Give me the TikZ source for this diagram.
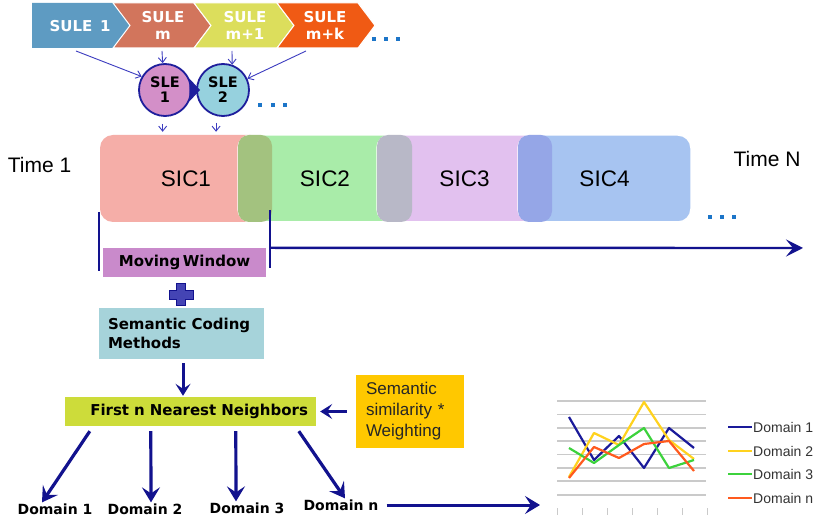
\documentclass[tikz,border=0pt]{standalone}
\usepackage{fontspec}
\setmainfont{Liberation Sans}
\newfontfamily\vfont{DejaVu Sans}
\usetikzlibrary{arrows.meta,calc}

\definecolor{suleA}{HTML}{5E9BC2}
\definecolor{suleB}{HTML}{D2755C}
\definecolor{suleC}{HTML}{DCDE5C}
\definecolor{suleD}{HTML}{F05A14}
\definecolor{sleA}{HTML}{D38FC8}
\definecolor{sleB}{HTML}{96D1DE}
\definecolor{slerim}{HTML}{1E1E9C}
\definecolor{thinblue}{HTML}{3C3CC0}
\definecolor{sicA}{HTML}{F5AEA8}
\definecolor{sicB}{HTML}{A9ECA9}
\definecolor{sicC}{HTML}{E2C1EF}
\definecolor{sicD}{HTML}{A7C4F1}
\definecolor{ovAB}{HTML}{A3C27F}
\definecolor{ovBC}{HTML}{B8B8C7}
\definecolor{ovCD}{HTML}{95A6E7}
\definecolor{navy}{HTML}{12128E}
\definecolor{dotblue}{HTML}{1C75C8}
\definecolor{mwfill}{HTML}{C98ACB}
\definecolor{scmfill}{HTML}{A6D3DA}
\definecolor{fnnfill}{HTML}{CDDC3A}
\definecolor{simfill}{HTML}{FFC800}
\definecolor{plusfill}{HTML}{4444B4}
\definecolor{gridgrey}{HTML}{CACACA}
\definecolor{domA}{HTML}{1A1A9A}
\definecolor{domB}{HTML}{FFD21E}
\definecolor{domC}{HTML}{3CD23C}
\definecolor{domN}{HTML}{FF5A1E}

\tikzset{
  suleedge/.style={draw=white, line width=1pt},
  suletext/.style={text=white, align=center, inner sep=1pt,
    font=\vfont\bfseries\fontsize{15}{17}\selectfont},
  slecircle/.style={circle, draw=slerim, line width=1.8pt, minimum size=52pt,
    inner sep=0pt, align=center, font=\vfont\bfseries\fontsize{14.5}{15}\selectfont},
  thinarrow/.style={draw=thinblue, line width=0.9pt,
    -{Straight Barb[length=5pt,width=8pt]}},
  sicbox/.style={rounded corners=13pt, minimum height=87pt, inner sep=0pt,
    font=\fontsize{22.5}{24}\selectfont},
  ovbox/.style={rounded corners=11pt, minimum height=87pt, inner sep=0pt},
  timelab/.style={font=\fontsize{21}{24}\selectfont, inner sep=1pt},
  navybar/.style={draw=navy, line width=2.6pt},
  timearrow/.style={draw=navy, line width=2.4pt,
    -{Stealth[length=17pt,width=17pt,inset=7pt]}},
  boldbox/.style={font=\vfont\bfseries\fontsize{15}{19}\selectfont, inner ysep=0pt},
  bigarrow/.style={draw=navy, line width=3.2pt,
    -{Stealth[length=15pt,width=18pt,inset=6pt]}},
  midarrow/.style={draw=navy, line width=3pt,
    -{Stealth[length=12pt,width=15pt,inset=5pt]}},
  domlab/.style={font=\vfont\bfseries\fontsize{14}{16}\selectfont, inner sep=1pt},
  gridline/.style={draw=gridgrey, line width=1.3pt},
  series/.style={line width=2.2pt, line join=round},
  legtext/.style={font=\fontsize{14}{16}\selectfont, text=black!80, inner sep=1pt},
}

\begin{document}
\begin{tikzpicture}[x=1pt,y=-1pt]
\fill[white] (0,0) rectangle (820,521);
\useasboundingbox (0,0) rectangle (820,521);

% chevrons on top
\fill[suleA] (32,3) -- (113,3) -- (130,25.5) -- (113,48) -- (32,48) -- cycle;
\foreach \l/\r/\c in {113/194/suleB, 194/277/suleC, 277/358/suleD}
  \filldraw[fill=\c, suleedge] (\l,3) -- (\r,3) -- ({\r+17},25.5) -- (\r,48)
    -- (\l,48) -- ({\l+17},25.5) -- cycle;
\node[suletext] (s1) at (80,26) {SULE\ \,1};
\node[suletext] (sm) at (163,25) {SULE\\m};
\node[suletext] (sm1) at (245,25) {SULE\\m+1};
\node[suletext] (smk) at (325,25) {SULE\\m+k};
\foreach \x in {374,386,398}
  \fill[dotblue] ({\x-2},37) rectangle ({\x+2},41);

% SLE circles
\node[slecircle, fill=sleA] (sle1) at (165,90) {SLE\\1};
\node[slecircle, fill=sleB] (sle2) at (223,90) {SLE\\2};
\fill[slerim] (sle1.25) -- ([xshift=4pt]sle2.west) -- (sle1.-25) -- cycle;
\foreach \x in {260,273,285}
  \fill[dotblue] ({\x-2},103) rectangle ({\x+2},107);

\draw[thinarrow] ($(s1)+(-4,25)$) -- (sle1.150);
\draw[thinarrow] ($(sm)+(-1,26)$) -- (sle1.95);
\draw[thinarrow] ($(sm1)+(-13,26)$) -- (sle2.70);
\draw[thinarrow] ($(smk)+(-19,26)$) -- (sle2.25);

% sliding SICs
\node[sicbox, fill=sicA, minimum width=172pt] (sic1) at (186,178.5) {SIC1};
\node[sicbox, fill=sicB, draw=white, line width=1.5pt, minimum width=174pt] (sic2) at (325,178.5) {SIC2};
\node[ovbox, fill=ovAB, minimum width=34pt] (ov12) at (255,178.5) {};
\node[sicbox, fill=sicC, draw=white, line width=1.5pt, minimum width=175pt] (sic3) at (464.5,178.5) {SIC3};
\node[ovbox, fill=ovBC, minimum width=35pt] (ov23) at (394.5,178.5) {};
\node[sicbox, fill=sicD, draw=white, line width=1.5pt, minimum width=173pt] (sic4) at (604.5,178.5) {SIC4};
\node[ovbox, fill=ovCD, minimum width=34pt] (ov34) at (535,178.5) {};

\draw[thinarrow, shorten <=7pt, shorten >=3pt] (sle1.265) -- (sle1.265 |- sic1.north);
\draw[thinarrow, shorten <=7pt, shorten >=3pt] (sle2.255) -- (sle2.255 |- sic1.north);

\node[timelab] (t1) at (39.5,164.5) {Time 1};
\node[timelab] (tn) at (767,159) {Time N};
\foreach \x in {710,722,734}
  \fill[dotblue] ({\x-2},215) rectangle ({\x+2},219);

% moving window
\node[boldbox, fill=mwfill, minimum width=163pt, minimum height=29pt] (mw) at (184.5,262.5) {Moving\,Window};
\coordinate (mwl1) at (99,212);
\coordinate (mwl2) at (99,271);
\coordinate (mwr1) at (270,210);
\coordinate (mwr2) at (270,268);
\coordinate (tend) at (803,248);
\draw[navybar] (mwl1) -- (mwl2);
\draw[navybar] (mwr1) -- (mwr2);
\draw[timearrow] (mwr1 |- mw.north) -- (tend);

% plus sign
\filldraw[fill=plusfill, draw=navy, line width=1pt, shift={(181,295)}]
  (-4.5,-11) -- (4.5,-11) -- (4.5,-4.5) -- (12,-4.5) -- (12,4.5) -- (4.5,4.5)
  -- (4.5,11) -- (-4.5,11) -- (-4.5,4.5) -- (-12,4.5) -- (-12,-4.5) -- (-4.5,-4.5) -- cycle;

\node[boldbox, fill=scmfill, minimum width=165pt, minimum height=51pt,
  text width=147pt, inner xsep=9pt, align=left] (scm) at (181.5,333.5)
  {Semantic Coding\\Methods};
\node[boldbox, fill=fnnfill, minimum width=251pt, minimum height=29pt,
  text width=235pt, inner xsep=8pt, align=right] (fnn) at (190.5,411.5)
  {First n Nearest Neighbors};
\node[fill=simfill, minimum width=108pt, minimum height=73pt, text width=88pt,
  inner xsep=10pt, align=left, text=black!85,
  font=\fontsize{17}{21}\selectfont] (sim) at (410,411.5)
  {Semantic\\similarity *\\Weighting};

\draw[midarrow, shorten <=4pt, shorten >=1pt] ([xshift=1.5pt]scm.south) -- ([xshift=1.5pt]fnn.north -| scm.south);
\draw[midarrow, shorten <=9pt, shorten >=4pt] (sim.west) -- (fnn.east);

% domains
\node[domlab] (d1) at (55,509) {Domain 1};
\node[domlab] (d2) at (145,509) {Domain 2};
\node[domlab] (d3) at (247,508) {Domain 3};
\node[domlab] (dn) at (341,505) {Domain n};
\draw[bigarrow] ($(fnn.south west)+(25,5)$) -- ([xshift=-13pt]d1.north);
\draw[bigarrow] ($(fnn.south west)+(86,5)$) -- ([xshift=6pt]d2.north);
\draw[bigarrow] ($(fnn.south west)+(171,5)$) -- ([xshift=-11pt]d3.north);
\draw[bigarrow] ($(fnn.south west)+(234,5)$) -- ([xshift=4pt]dn.north);

\coordinate (chartin) at (540,504);
\draw[bigarrow, line width=3pt, shorten <=7pt] (dn.east) -- (dn.east -| chartin);

% line chart
\foreach \y in {401,414.5,428,441,454.5,468,481,495}
  \draw[gridline] (557,\y) -- (706,\y);
\foreach \x in {557,582,...,707}
  \draw[gridline, line width=1pt] (\x,508) -- (\x,515);
\draw[series, domA] plot coordinates {(569,417) (594,460) (619,436) (644,468) (669,428) (694,448)};
\draw[series, domB] plot coordinates {(569,477) (594,433) (619,445) (644,402) (669,440) (694,459)};
\draw[series, domC] plot coordinates {(569,448) (594,463) (619,445) (644,428) (669,468) (694,460)};
\draw[series, domN] plot coordinates {(569,478) (594,447) (619,458) (644,444) (669,441) (694,471)};

\foreach \c/\t/\y [count=\i] in {domA/Domain 1/427, domB/Domain 2/451, domC/Domain 3/474, domN/Domain n/498} {
  \draw[series, \c] (728,\y) -- (752,\y);
  \node[legtext, anchor=west] (leg\i) at (752,\y) {\t};
}
\end{tikzpicture}
\end{document}
